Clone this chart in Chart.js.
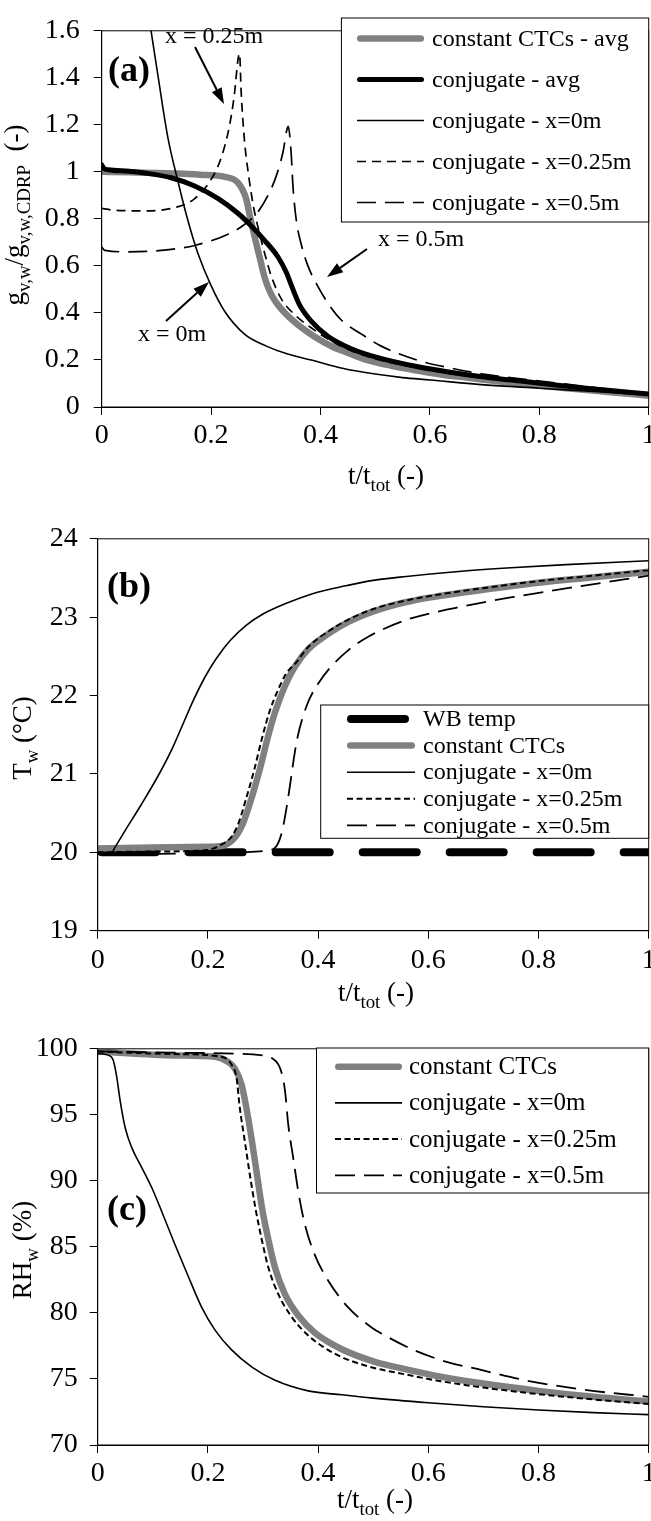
<!DOCTYPE html>
<html>
<head>
<meta charset="utf-8">
<script src="https://cdn.jsdelivr.net/npm/chart.js@4.4.1/dist/chart.umd.min.js"></script>
<style>
html, body { margin: 0; padding: 0; overflow: hidden; background: #fff; width: 651px; height: 1521px; }
canvas { position: absolute; left: 0; }
</style>
</head>
<body>
<canvas id="chartA" width="700" height="510" style="top:0px"></canvas>
<canvas id="chartB" width="700" height="510" style="top:510px"></canvas>
<canvas id="chartC" width="700" height="501" style="top:1020px"></canvas>
<script>
// x axis (shared)
var x_ticks = [0, 0.2, 0.4, 0.6, 0.8, 1];
var x_labels = ['0', '0.2', '0.4', '0.6', '0.8', '1'];

// (a) g_v,w / g_v,w,CDRP
var a_y_ticks = [0, 0.2, 0.4, 0.6, 0.8, 1, 1.2, 1.4, 1.6];
var a_y_labels = ['0', '0.2', '0.4', '0.6', '0.8', '1', '1.2', '1.4', '1.6'];
var a_ctc_t = [0, 0.05, 0.1, 0.14, 0.18, 0.225, 0.249, 0.264, 0.272, 0.281, 0.29, 0.298, 0.304, 0.312, 0.322, 0.335, 0.35, 0.363, 0.39, 0.423, 0.45, 0.484, 0.53, 0.576, 0.62, 0.667, 0.72, 0.774, 0.85, 0.92, 1];
var a_ctc_g = [1.0, 0.998, 0.995, 0.993, 0.988, 0.979, 0.954, 0.886, 0.8, 0.71, 0.625, 0.55, 0.51, 0.47, 0.435, 0.4, 0.367, 0.342, 0.298, 0.255, 0.23, 0.2, 0.175, 0.155, 0.138, 0.125, 0.11, 0.097, 0.08, 0.065, 0.048];
var a_avg_t = [0, 0.004, 0.012, 0.05, 0.079, 0.127, 0.17, 0.213, 0.249, 0.274, 0.298, 0.322, 0.338, 0.347, 0.362, 0.383, 0.414, 0.456, 0.505, 0.576, 0.637, 0.7, 0.774, 0.85, 0.92, 1];
var a_avg_g = [1.03, 1.015, 1.009, 1.003, 0.995, 0.975, 0.94, 0.886, 0.824, 0.769, 0.708, 0.639, 0.57, 0.516, 0.433, 0.365, 0.3, 0.248, 0.21, 0.172, 0.148, 0.128, 0.108, 0.088, 0.072, 0.055];
var a_x0_t = [0.07, 0.0896, 0.103, 0.121, 0.14, 0.158, 0.176, 0.2, 0.225, 0.261, 0.3, 0.34, 0.383, 0.44, 0.5, 0.55, 0.6, 0.7, 0.8, 0.9, 1];
var a_x0_g = [1.9, 1.61, 1.407, 1.146, 0.954, 0.79, 0.653, 0.516, 0.406, 0.31, 0.26, 0.225, 0.2, 0.165, 0.14, 0.125, 0.115, 0.094, 0.08, 0.066, 0.052];
var a_x025_t = [0, 0.018, 0.079, 0.14, 0.17, 0.2, 0.219, 0.234, 0.243, 0.249, 0.252, 0.255, 0.261, 0.268, 0.277, 0.286, 0.298, 0.31, 0.328, 0.353, 0.383, 0.42, 0.46, 0.5, 0.58, 0.66, 0.76, 0.88, 1];
var a_x025_g = [0.845, 0.838, 0.834, 0.852, 0.886, 0.968, 1.064, 1.201, 1.338, 1.475, 1.503, 1.338, 1.133, 0.995, 0.858, 0.762, 0.653, 0.557, 0.461, 0.392, 0.337, 0.28, 0.235, 0.205, 0.165, 0.135, 0.11, 0.08, 0.05];
var a_x05_t = [0, 0.006, 0.048, 0.109, 0.17, 0.231, 0.261, 0.286, 0.304, 0.319, 0.332, 0.338, 0.341, 0.346, 0.35, 0.356, 0.365, 0.377, 0.396, 0.414, 0.438, 0.475, 0.51, 0.576, 0.637, 0.697, 0.774, 0.85, 0.92, 1];
var a_x05_g = [0.68, 0.666, 0.66, 0.666, 0.687, 0.735, 0.776, 0.831, 0.9, 0.982, 1.091, 1.174, 1.194, 1.091, 0.927, 0.79, 0.69, 0.6, 0.51, 0.44, 0.37, 0.31, 0.26, 0.2, 0.166, 0.14, 0.118, 0.097, 0.078, 0.058];

// (b) T_w
var b_y_ticks = [19, 20, 21, 22, 23, 24];
var b_y_labels = ['19', '20', '21', '22', '23', '24'];
var b_wb_t = [0, 1];
var b_wb_T = [20, 20];
var b_ctc_t = [0, 0.1, 0.2, 0.225, 0.249, 0.264, 0.28, 0.295, 0.31, 0.322, 0.34, 0.358, 0.382, 0.419, 0.455, 0.503, 0.558, 0.62, 0.7, 0.8, 0.9, 1];
var b_ctc_T = [20.05, 20.06, 20.07, 20.08, 20.19, 20.375, 20.71, 21.08, 21.5, 21.79, 22.125, 22.37, 22.59, 22.79, 22.94, 23.08, 23.19, 23.27, 23.35, 23.44, 23.51, 23.58];
var b_x0_t = [0, 0.025, 0.031, 0.05, 0.08, 0.11, 0.135, 0.155, 0.175, 0.195, 0.215, 0.24, 0.27, 0.3, 0.34, 0.39, 0.45, 0.5, 0.56, 0.65, 0.75, 0.85, 1];
var b_x0_T = [19.98, 19.99, 20.06, 20.28, 20.62, 20.98, 21.32, 21.64, 21.96, 22.24, 22.47, 22.7, 22.9, 23.04, 23.17, 23.3, 23.4, 23.47, 23.52, 23.58, 23.63, 23.67, 23.72];
var b_x025_t = [0, 0.1, 0.2, 0.225, 0.243, 0.256, 0.27, 0.284, 0.298, 0.312, 0.326, 0.342, 0.36, 0.382, 0.419, 0.455, 0.503, 0.558, 0.62, 0.7, 0.8, 0.9, 1];
var b_x025_T = [20.0, 20.01, 20.03, 20.1, 20.2, 20.38, 20.7, 21.05, 21.45, 21.8, 22.05, 22.28, 22.42, 22.62, 22.82, 22.97, 23.11, 23.21, 23.29, 23.37, 23.46, 23.53, 23.6];
var b_x05_t = [0, 0.1, 0.2, 0.261, 0.304, 0.322, 0.334, 0.343, 0.352, 0.356, 0.363, 0.372, 0.384, 0.4, 0.42, 0.455, 0.491, 0.558, 0.65, 0.765, 0.88, 1];
var b_x05_T = [19.98, 19.98, 19.99, 20.0, 20.02, 20.06, 20.25, 20.58, 21.0, 21.2, 21.48, 21.72, 21.95, 22.15, 22.34, 22.58, 22.75, 22.96, 23.12, 23.27, 23.4, 23.53];

// (c) RH_w
var c_y_ticks = [70, 75, 80, 85, 90, 95, 100];
var c_y_labels = ['70', '75', '80', '85', '90', '95', '100'];
var c_ctc_t = [0, 0.14, 0.213, 0.237, 0.249, 0.261, 0.27, 0.28, 0.289, 0.298, 0.31, 0.322, 0.34, 0.364, 0.394, 0.443, 0.503, 0.558, 0.62, 0.7, 0.8, 0.9, 1];
var c_ctc_RH = [99.8, 99.5, 99.4, 99.0, 98.5, 97.3, 95.5, 93.0, 90.5, 88.0, 85.5, 83.4, 81.4, 79.8, 78.5, 77.25, 76.3, 75.75, 75.2, 74.65, 74.1, 73.65, 73.3];
var c_x0_t = [0, 0.019, 0.028, 0.034, 0.041, 0.05, 0.062, 0.08, 0.098, 0.116, 0.14, 0.165, 0.189, 0.213, 0.243, 0.28, 0.322, 0.382, 0.443, 0.5, 0.6, 0.7, 0.8, 0.9, 1];
var c_x0_RH = [99.65, 99.52, 99.15, 98.0, 96.0, 94.0, 92.5, 91.0, 89.5, 87.7, 85.2, 82.7, 80.4, 78.7, 77.2, 75.9, 74.9, 74.1, 73.8, 73.55, 73.2, 72.9, 72.65, 72.45, 72.3];
var c_x025_t = [0, 0.14, 0.224, 0.243, 0.252, 0.258, 0.267, 0.276, 0.286, 0.298, 0.31, 0.328, 0.352, 0.382, 0.431, 0.491, 0.558, 0.62, 0.7, 0.8, 0.9, 1];
var c_x025_RH = [99.8, 99.6, 99.4, 98.8, 97.8, 95.5, 93.0, 90.5, 88.0, 85.5, 83.4, 81.4, 79.7, 78.3, 76.9, 75.95, 75.35, 74.85, 74.35, 73.85, 73.45, 73.1];
var c_x05_t = [0, 0.15, 0.3, 0.316, 0.328, 0.335, 0.34, 0.346, 0.355, 0.364, 0.376, 0.394, 0.419, 0.455, 0.497, 0.521, 0.573, 0.633, 0.694, 0.776, 0.88, 1];
var c_x05_RH = [99.8, 99.7, 99.5, 99.3, 98.8, 98.0, 96.8, 94.2, 91.7, 89.2, 86.7, 84.4, 82.4, 80.4, 78.9, 78.3, 77.2, 76.3, 75.7, 74.9, 74.2, 73.65];

var FONT = '"Liberation Serif", "Times New Roman", serif';

function pts(ts, vs) {
    return ts.map(function (t, i) { return { x: t, y: vs[i] }; });
}

function line(label, ts, vs, style) {
    return Object.assign({
        label: label,
        data: pts(ts, vs),
        borderColor: '#000',
        borderWidth: 1.6,
        pointRadius: 0,
        fill: false,
        cubicInterpolationMode: 'monotone'
    }, style);
}

// line styles
var GRAY = { borderColor: '#808080', borderWidth: 6.5, borderCapStyle: 'round', order: 9 };
var AVG = { borderWidth: 5, borderCapStyle: 'round', order: 8 };
var THIN = { borderWidth: 1.6, order: 1 };
var DOT_A = { borderWidth: 1.7, borderDash: [9, 6], order: 2 };
var DASH_A = { borderWidth: 1.7, borderDash: [19, 9], order: 3 };
var DOT_BC = { borderWidth: 2, borderDash: [6, 3.5], order: 2 };
var DASH_BC = { borderWidth: 1.8, borderDash: [20, 9], order: 3 };
var WB = { borderWidth: 8, borderDash: [54, 33], borderDashOffset: -4, borderCapStyle: 'round', cubicInterpolationMode: 'default', tension: 0, order: 10 };

// text with subscripts: parts = [[text, isSub], ...]
function richWidth(ctx, parts, size) {
    var w = 0;
    parts.forEach(function (p) {
        ctx.font = (p[1] ? size * 0.7 : size) + 'px ' + FONT;
        w += ctx.measureText(p[0]).width;
    });
    return w;
}
function drawRich(ctx, parts, x, y, size) {
    var cx = x - richWidth(ctx, parts, size) / 2;
    ctx.textAlign = 'left';
    ctx.textBaseline = 'alphabetic';
    parts.forEach(function (p) {
        var s = p[1] ? size * 0.7 : size;
        ctx.font = s + 'px ' + FONT;
        ctx.fillText(p[0], cx, y + (p[1] ? size * 0.25 : 0));
        cx += ctx.measureText(p[0]).width;
    });
}

function arrow(ctx, x1, y1, x2, y2) {
    var ang = Math.atan2(y2 - y1, x2 - x1), L = 16, hw = 5.5;
    var bx = x2 - L * Math.cos(ang), by = y2 - L * Math.sin(ang);
    ctx.beginPath();
    ctx.lineWidth = 2;
    ctx.moveTo(x1, y1);
    ctx.lineTo(bx, by);
    ctx.stroke();
    ctx.beginPath();
    ctx.moveTo(x2, y2);
    ctx.lineTo(bx + hw * Math.sin(ang), by - hw * Math.cos(ang));
    ctx.lineTo(bx - hw * Math.sin(ang), by + hw * Math.cos(ang));
    ctx.closePath();
    ctx.fill();
}

function makeExtras(cfg) {
    return {
        id: 'extras',
        afterDatasetsDraw: function (chart) {
            var ctx = chart.ctx, a = chart.chartArea;
            ctx.save();
            ctx.strokeStyle = '#000';
            ctx.fillStyle = '#000';
            ctx.lineWidth = 1;
            ctx.strokeRect(a.left, a.top, a.right - a.left, a.bottom - a.top);

            // legend box
            var L = cfg.legend;
            ctx.fillStyle = '#fff';
            ctx.fillRect(L.x, L.y, L.w, L.h);
            ctx.strokeRect(L.x, L.y, L.w, L.h);
            chart.data.datasets.forEach(function (ds, i) {
                var y = L.y0 + i * L.step;
                var cap = ds.borderCapStyle || 'butt';
                var ins = cap === 'round' ? ds.borderWidth / 2 : 0;
                ctx.beginPath();
                ctx.strokeStyle = ds.borderColor;
                ctx.lineWidth = ds.borderWidth;
                ctx.lineCap = cap;
                ctx.setLineDash(ds.borderDash || []);
                ctx.lineDashOffset = 0;
                ctx.moveTo(L.x1 + ins, y);
                ctx.lineTo(L.x2 - ins, y);
                ctx.stroke();
                ctx.setLineDash([]);
                ctx.fillStyle = '#000';
                ctx.font = L.size + 'px ' + FONT;
                ctx.textAlign = 'left';
                ctx.textBaseline = 'middle';
                ctx.fillText(ds.label, L.tx, y + 1);
            });
            ctx.lineCap = 'butt';
            ctx.strokeStyle = '#000';
            ctx.fillStyle = '#000';

            // panel letter
            ctx.font = 'bold 36px ' + FONT;
            ctx.textAlign = 'center';
            ctx.textBaseline = 'middle';
            ctx.fillText(cfg.letter.text, cfg.letter.x, cfg.letter.y);

            // annotations
            (cfg.notes || []).forEach(function (n) {
                ctx.font = '24px ' + FONT;
                ctx.textAlign = 'left';
                ctx.textBaseline = 'middle';
                ctx.fillText(n.text, n.x, n.y);
                arrow(ctx, n.ax1, n.ay1, n.ax2, n.ay2);
            });

            // axis titles
            drawRich(ctx, cfg.xTitle.parts, cfg.xTitle.x, cfg.xTitle.y, 27);
            ctx.translate(cfg.yTitle.x, cfg.yTitle.y);
            ctx.rotate(-Math.PI / 2);
            drawRich(ctx, cfg.yTitle.parts, 0, 0, 27);
            ctx.restore();
        }
    };
}

function makeChart(id, cfg) {
    var cv = document.getElementById(id);
    var W = cv.width, H = cv.height, A = cfg.area;
    return new Chart(cv.getContext('2d'), {
        type: 'line',
        data: { datasets: cfg.datasets },
        options: {
            responsive: false,
            animation: false,
            events: [],
            layout: { padding: { left: 0, top: A.top, right: W - A.right, bottom: 0 } },
            plugins: { legend: { display: false }, tooltip: { enabled: false } },
            scales: {
                x: {
                    type: 'linear', min: 0, max: 1,
                    afterBuildTicks: function (s) { s.ticks = x_ticks.map(function (v) { return { value: v }; }); },
                    afterFit: function (s) { s.height = H - A.bottom; },
                    grid: { drawOnChartArea: false, color: '#000', tickColor: '#000', tickLength: 8 },
                    border: { color: '#000', width: 1 },
                    ticks: {
                        color: '#000', font: { family: FONT, size: 28 }, padding: cfg.xPad, maxRotation: 0, autoSkip: false,
                        callback: function (v, i) { return x_labels[i]; }
                    }
                },
                y: {
                    type: 'linear', min: cfg.yTicks[0], max: cfg.yTicks[cfg.yTicks.length - 1],
                    afterBuildTicks: function (s) { s.ticks = cfg.yTicks.map(function (v) { return { value: v }; }); },
                    afterFit: function (s) { s.width = A.left; },
                    grid: { drawOnChartArea: false, color: '#000', tickColor: '#000', tickLength: 8 },
                    border: { color: '#000', width: 1 },
                    ticks: {
                        color: '#000', font: { family: FONT, size: 28 }, padding: cfg.yPad, autoSkip: false,
                        callback: function (v, i) { return cfg.yLabels[i]; }
                    }
                }
            }
        },
        plugins: [makeExtras(cfg)]
    });
}

// (a)
makeChart('chartA', {
    area: { left: 101.7, top: 18, right: 648.7, bottom: 407 },
    yTicks: a_y_ticks, yLabels: a_y_labels, xPad: 4, yPad: 14,
    datasets: [
        line('constant CTCs - avg', a_ctc_t, a_ctc_g, GRAY),
        line('conjugate - avg', a_avg_t, a_avg_g, AVG),
        line('conjugate - x=0m', a_x0_t, a_x0_g, THIN),
        line('conjugate - x=0.25m', a_x025_t, a_x025_g, DOT_A),
        line('conjugate - x=0.5m', a_x05_t, a_x05_g, DASH_A)
    ],
    legend: { x: 341.4, y: 18, w: 307.3, h: 204, y0: 38.5, step: 41, x1: 357, x2: 424, tx: 432, size: 24 },
    letter: { text: '(a)', x: 129, y: 72 },
    notes: [
        { text: 'x = 0.25m', x: 165, y: 37, ax1: 195, ay1: 47, ax2: 224, ay2: 104 },
        { text: 'x = 0m', x: 138, y: 335, ax1: 166, ay1: 321, ax2: 209, ay2: 282 },
        { text: 'x = 0.5m', x: 378, y: 240, ax1: 367, ay1: 249, ax2: 327, ay2: 277 }
    ],
    xTitle: { x: 386, y: 484, parts: [['t/t', false], ['tot', true], [' (-)', false]] },
    yTitle: { x: 23, y: 215, parts: [['g', false], ['v,w', true], ['/g', false], ['v,w,CDRP', true], ['  (-)', false]] }
});

// (b)
makeChart('chartB', {
    area: { left: 97.7, top: 20.7, right: 648.7, bottom: 420.7 },
    yTicks: b_y_ticks, yLabels: b_y_labels, xPad: 5, yPad: 12,
    datasets: [
        line('WB temp', b_wb_t, b_wb_T, WB),
        line('constant CTCs', b_ctc_t, b_ctc_T, GRAY),
        line('conjugate - x=0m', b_x0_t, b_x0_T, THIN),
        line('conjugate - x=0.25m', b_x025_t, b_x025_T, DOT_BC),
        line('conjugate - x=0.5m', b_x05_t, b_x05_T, DASH_BC)
    ],
    legend: { x: 320.7, y: 195, w: 328, h: 133.3, y0: 209, step: 26.6, x1: 347, x2: 415, tx: 423, size: 24 },
    letter: { text: '(b)', x: 129, y: 78 },
    xTitle: { x: 376, y: 491, parts: [['t/t', false], ['tot', true], [' (-)', false]] },
    yTitle: { x: 31, y: 228, parts: [['T', false], ['w', true], [' (°C)', false]] }
});

// (c)
makeChart('chartC', {
    area: { left: 97.7, top: 27, right: 648.7, bottom: 425 },
    yTicks: c_y_ticks, yLabels: c_y_labels, xPad: 4, yPad: 12,
    datasets: [
        line('constant CTCs', c_ctc_t, c_ctc_RH, GRAY),
        line('conjugate - x=0m', c_x0_t, c_x0_RH, THIN),
        line('conjugate - x=0.25m', c_x025_t, c_x025_RH, DOT_BC),
        line('conjugate - x=0.5m', c_x05_t, c_x05_RH, DASH_BC)
    ],
    legend: { x: 316.5, y: 28, w: 332.2, h: 145, y0: 46.7, step: 36.2, x1: 335, x2: 402, tx: 409, size: 25 },
    letter: { text: '(c)', x: 127, y: 191 },
    xTitle: { x: 375, y: 488, parts: [['t/t', false], ['tot', true], [' (-)', false]] },
    yTitle: { x: 31, y: 230, parts: [['RH', false], ['w', true], [' (%)', false]] }
});
</script>
</body>
</html>
